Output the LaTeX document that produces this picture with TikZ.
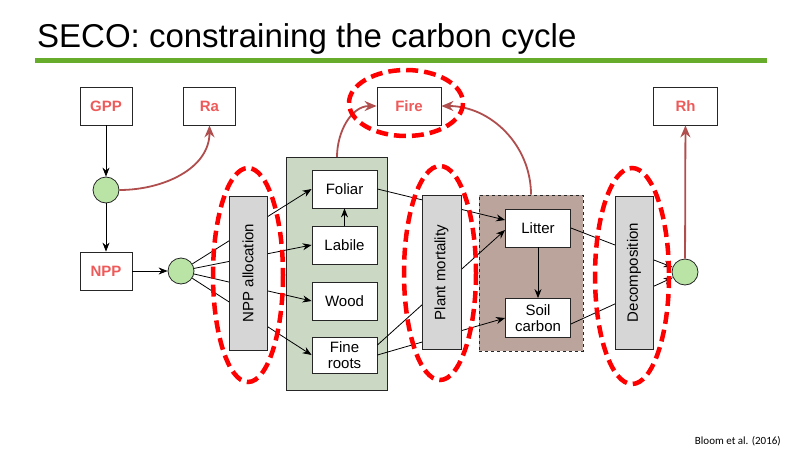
\documentclass[tikz,border=0pt]{standalone}
\usepackage{fontspec}
\setmainfont{Liberation Sans}
\newfontfamily\calib{Carlito}
\usetikzlibrary{arrows.meta,calc}
\definecolor{lblred}{RGB}{238,90,90}
\definecolor{procgray}{RGB}{214,214,214}
\definecolor{dotgreen}{RGB}{185,228,165}
\definecolor{poolgreen}{RGB}{202,216,196}
\definecolor{litbrown}{RGB}{186,164,156}
\definecolor{fluxred}{RGB}{176,78,78}
\definecolor{fluxpink}{RGB}{225,150,150}
\definecolor{titlegreen}{RGB}{104,172,44}
\begin{document}
\begin{tikzpicture}[x=1pt,y=-1pt,
  lbl/.style={draw=black!85,line width=0.8pt,minimum width=52pt,minimum height=38pt,inner sep=0pt,text=lblred,font=\bfseries\fontsize{15}{17}\selectfont},
  pool/.style={draw=black!85,line width=0.8pt,fill=white,minimum width=65pt,minimum height=38pt,inner sep=0pt,align=center,font=\fontsize{15}{15.5}\selectfont},
  proc/.style={draw=black!85,line width=0.8pt,fill=procgray,minimum width=154pt,minimum height=38pt,inner sep=0pt,rotate=90,font=\fontsize{15}{17}\selectfont},
  dotnode/.style={circle,draw=black!85,line width=0.8pt,fill=dotgreen,minimum size=26pt,inner sep=0pt},
  arr/.style={-{Stealth[length=9pt,width=7pt]},line width=0.8pt},
  flux/.style={-{Stealth[length=12pt,width=10pt,fill=fluxpink]},draw=fluxred,line width=1.8pt},
  hl/.style={draw=red,line width=4.5pt,dash pattern=on 12pt off 6pt}
]
\useasboundingbox (0,0) rectangle (800,450);
% title
\node[anchor=base west,inner sep=0pt,font=\fontsize{33}{36}\selectfont] (title) at (37,47) {SECO: constraining the carbon cycle};
\draw[titlegreen,line width=5pt] (35,60) -- (767,60);
\node[anchor=base east,inner sep=0pt,font=\calib\fontsize{11}{13}\selectfont] (cite) at (781,444) {Bloom et al. (2016)};

% big containers
\node[draw=black!85,line width=0.8pt,fill=poolgreen,minimum width=101pt,minimum height=233pt,inner sep=0pt] (veg) at (337,273.5) {};
\node[draw=black!85,line width=0.8pt,dashed,fill=litbrown,minimum width=104pt,minimum height=156pt,inner sep=0pt] (dead) at (531,273) {};

% pools
\node[pool] (Foliar) at (344.5,189) {Foliar};
\node[pool] (Labile) at (344.5,245) {Labile};
\node[pool] (Wood) at (344.5,301) {Wood};
\node[pool,minimum height=36pt] (Fine) at (344.5,355) {Fine\\roots};
\node[pool] (Litter) at (538,228) {Litter};
\node[pool,minimum height=39pt] (Soil) at (538,318) {Soil\\carbon};

% labels
\node[lbl] (GPP) at (106,106) {GPP};
\node[lbl] (Ra) at (209.5,106) {Ra};
\node[lbl,minimum width=64pt] (Fire) at (409,106) {Fire};
\node[lbl,minimum width=64pt] (Rh) at (685.5,106) {Rh};
\node[lbl] (NPP) at (106,271) {NPP};

% junctions
\node[dotnode] (c1) at (106,190) {};
\node[dotnode] (c2) at (181,271) {};
\node[dotnode] (c3) at (685,272) {};

% black connectors
\draw[arr] (GPP) -- (c1);
\draw[arr] (c1) -- (NPP);
\draw[arr] (NPP) -- (c2);
\draw[arr] (c2) -- (Foliar.west);
\draw[arr] (c2) -- (Labile.west);
\draw[arr] (c2) -- (Wood.west);
\draw[arr] (c2) -- (Fine.west);
\draw[arr] (Labile) -- (Foliar);
\draw[arr] (Foliar.east) -- ($(Litter.west)+(0,-8)$);
\draw[arr] ($(Fine.east)+(0,-10)$) -- ($(Litter.west)+(0,2)$);
\draw[arr] (Fine.east) -- (Soil.west);
\draw[arr] (Litter) -- (Soil);
\draw[arr] (Litter.east) -- (c3);
\draw[arr] ($(Soil.east)+(0,6)$) -- (c3);

% flux connectors
\coordinate (vegtop) at (337,157);
\draw[flux] (c1.east) to[out=0,in=270] (Ra.south);
\draw[flux] (vegtop) to[out=90,in=180] (Fire.west);
\draw[flux] (dead.north) to[out=90,in=0] (Fire.east);
\draw[flux] (c3) -- (Rh);

% process boxes
\node[proc] (alloc) at (248,273) {NPP allocation};
\node[proc,minimum height=39pt] (mort) at (441.5,272.5) {Plant mortality};
\node[proc,minimum width=153pt] (decomp) at (634,272.5) {Decomposition};

% highlight ellipses
\draw[hl] (248,275) ellipse [x radius=35, y radius=107];
\draw[hl] (440,273) ellipse [x radius=36, y radius=107];
\draw[hl] (632,276) ellipse [x radius=37, y radius=108];
\draw[hl] (406,103) ellipse [x radius=57, y radius=33];
\end{tikzpicture}
\end{document}
